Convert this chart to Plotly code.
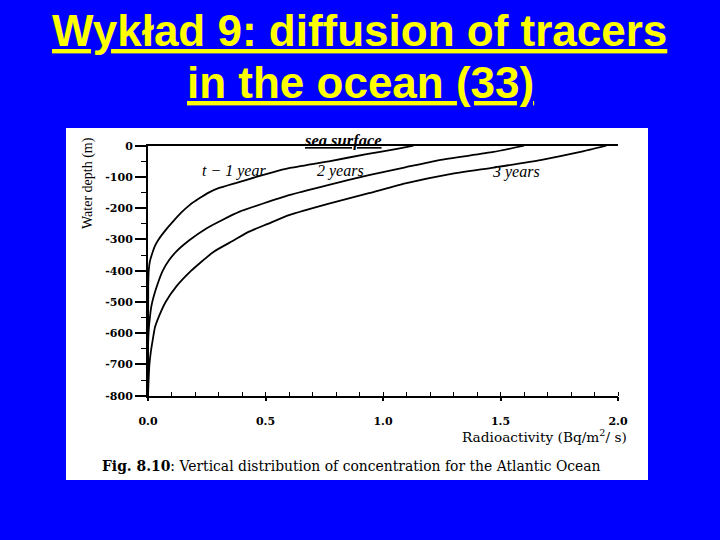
import plotly.graph_objects as go

# ---- data ----
depth_1yr = [0, -10, -27, -50, -72, -85, -100, -118, -136, -150, -170, -190, -215, -243, -270, -300, -320, -340, -370, -400, -450, -800]
conc_1yr = [1.13, 1.06, 0.93, 0.77, 0.60, 0.53, 0.46, 0.38, 0.30, 0.258, 0.215, 0.177, 0.14, 0.106, 0.075, 0.045, 0.03, 0.02, 0.008, 0.003, 0.001, 0.0]

depth_2yr = [0, -20, -46, -70, -94, -125, -158, -185, -211, -240, -264, -302, -339, -366, -400, -440, -480, -515, -550, -590, -650, -800]
conc_2yr = [1.60, 1.47, 1.24, 1.09, 0.94, 0.77, 0.60, 0.49, 0.39, 0.31, 0.25, 0.177, 0.12, 0.09, 0.063, 0.042, 0.025, 0.014, 0.008, 0.003, 0.0, 0.0]

depth_3yr = [0, -20, -46, -70, -92, -120, -152, -185, -222, -250, -275, -305, -339, -376, -400, -451, -500, -526, -580, -622, -660, -700, -760, -800]
conc_3yr = [1.95, 1.84, 1.67, 1.47, 1.28, 1.10, 0.94, 0.77, 0.60, 0.51, 0.43, 0.36, 0.28, 0.22, 0.184, 0.12, 0.075, 0.058, 0.03, 0.02, 0.012, 0.006, 0.002, 0.0]

x_tick_vals = [0, 0.5, 1.0, 1.5, 2.0]
x_tick_text = ["0.0", "0.5", "1.0", "1.5", "2.0"]
y_tick_vals = [0, -100, -200, -300, -400, -500, -600, -700, -800]
y_tick_text = ["0", "-100", "-200", "-300", "-400", "-500", "-600", "-700", "-800"]

W, H = 720, 540
def X(px):
    return px / W
def Y(py):
    return 1 - py / H

fig = go.Figure()
for xs, ys in [(conc_1yr, depth_1yr), (conc_2yr, depth_2yr), (conc_3yr, depth_3yr)]:
    fig.add_trace(go.Scatter(x=xs, y=ys, mode="lines",
                             line=dict(color="black", width=1.8, shape="spline", smoothing=0.5),
                             hoverinfo="skip"))

serif = "Liberation Serif"
wide_serif = "DejaVu Serif"
tickfont = dict(family=wide_serif, size=11, color="black", weight="bold")

fig.update_layout(
    width=W, height=H,
    margin=dict(l=0, r=0, t=0, b=0, pad=0, autoexpand=False),
    paper_bgcolor="#0000FF",
    plot_bgcolor="white",
    showlegend=False,
    xaxis=dict(domain=[X(148), X(618)], range=[0, 2.0], automargin=False,
               tickvals=x_tick_vals, ticktext=x_tick_text,
               ticks="outside", ticklen=4, tickwidth=1.5, tickcolor="black",
               showline=True, linecolor="black", linewidth=1.5, mirror=True,
               showgrid=False, zeroline=False, tickfont=tickfont,
               ticklabelstandoff=10,
               minor=dict(dtick=0.1, ticks="inside", ticklen=4, tickwidth=1.2,
                          tickcolor="black", showgrid=False)),
    yaxis=dict(domain=[Y(395.7), Y(145.7)], range=[-800, 0], automargin=False,
               tickvals=y_tick_vals, ticktext=y_tick_text,
               ticks="outside", ticklen=11, tickwidth=1.5, tickcolor="black",
               showline=True, linecolor="black", linewidth=2, mirror=False,
               showgrid=False, zeroline=False, tickfont=tickfont,
               minor=dict(dtick=50, ticks="outside", ticklen=5, tickwidth=1.2,
                          tickcolor="black", showgrid=False)),
)

# white panel behind the figure
fig.add_shape(type="rect", xref="paper", yref="paper",
              x0=X(66), x1=X(648), y0=Y(480), y1=Y(128),
              fillcolor="white", line=dict(width=0), layer="below")

def ann(text, px, py, size, family=serif, color="black", xanchor="center",
        yanchor="middle", angle=0, weight="normal", style="normal", lineposition="none"):
    fig.add_annotation(text=text, x=X(px), y=Y(py), xref="paper", yref="paper",
                       showarrow=False, xanchor=xanchor, yanchor=yanchor,
                       textangle=angle,
                       font=dict(family=family, size=size, color=color,
                                 weight=weight, style=style, lineposition=lineposition))

# slide title
ann("Wykład 9: diffusion of tracers", 359, 30, 44, family="Liberation Sans",
    color="#FFFF00", weight="bold", lineposition="under")
ann("in the ocean (33)", 360, 82, 44, family="Liberation Sans",
    color="#FFFF00", weight="bold", lineposition="under")

# axis titles
ann("Water depth (m)", 88, 183, 14, angle=-90)
ann("Radioactivity (Bq/m<sup>2</sup>/ s)", 629, 436, 13.7, family=wide_serif, xanchor="right")

# caption
ann("<b>Fig. 8.10</b>: Vertical distribution of concentration for the Atlantic Ocean",
    351, 466, 13.9, family=wide_serif)

# labels on the chart
ann("sea surface", 343, 140, 16.5, weight="bold", style="italic", lineposition="under")
ann("t − 1 year", 234, 171, 16, style="italic")
ann("2 years", 340, 171, 16, style="italic")
ann("3 years", 516, 172, 16, style="italic")

fig.write_html("out.html", config={"displayModeBar": False},
               post_script="document.body.style.margin='0';document.documentElement.style.background='#0000FF';document.body.style.background='#0000FF';")
